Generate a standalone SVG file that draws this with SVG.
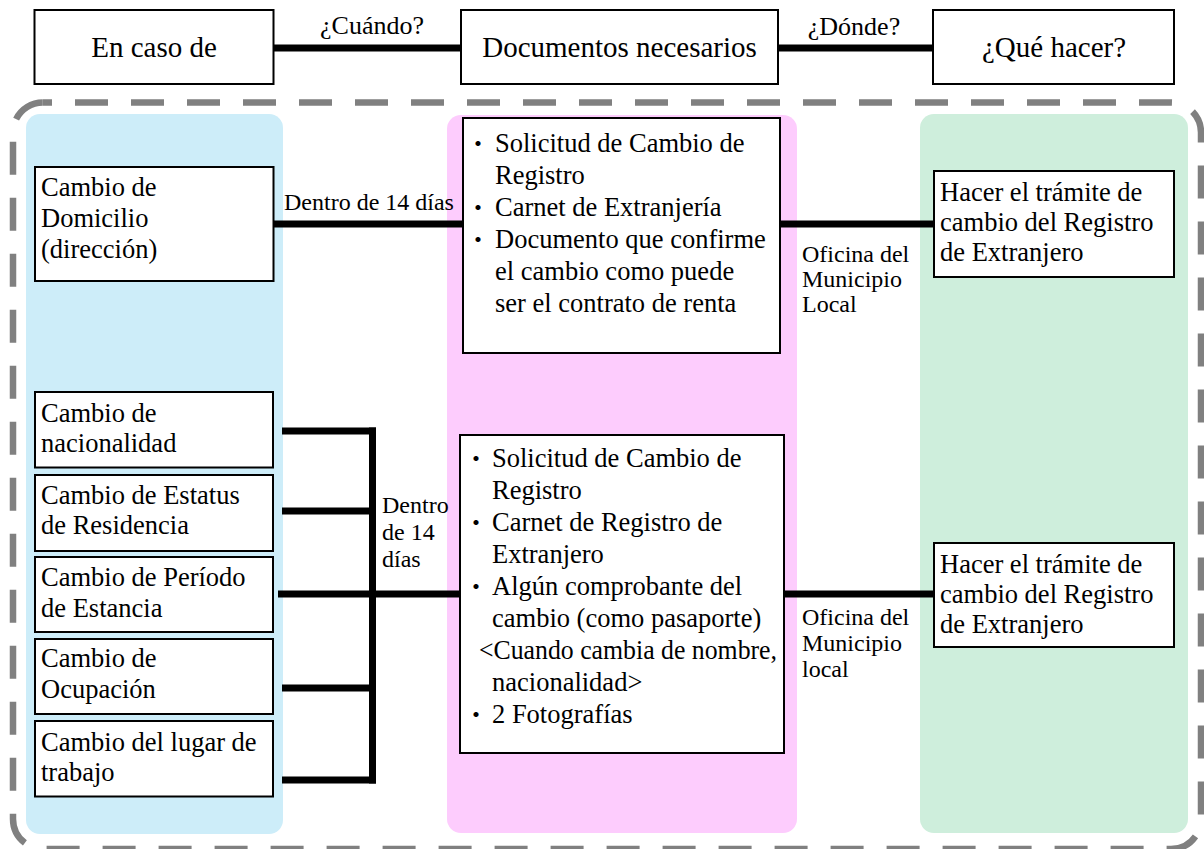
<svg xmlns="http://www.w3.org/2000/svg" width="1204" height="849" viewBox="0 0 1204 849">
<style>
text{font-family:"Liberation Serif","Times New Roman",serif;fill:#000}
.hd{font-size:29px;text-anchor:middle}
.lb{font-size:26px;text-anchor:middle}
.t{font-size:26.5px}
.s{font-size:24px}
.b{font-family:"Noto Sans CJK JP","Liberation Serif",sans-serif;font-size:24px;text-anchor:middle}
.box{fill:#fff;stroke:#000;stroke-width:2}
.ln{stroke:#000;stroke-width:7;fill:none}
</style>
<rect x="13" y="102.5" width="1188" height="746.5" rx="30" fill="none" stroke="#808080" stroke-width="6.5" stroke-dasharray="33 23" stroke-dashoffset="24"/>
<rect x="26" y="114" width="257" height="720" rx="14" fill="#cdedf9"/>
<rect x="447" y="115" width="350" height="718" rx="14" fill="#fdccfd"/>
<rect x="920" y="114" width="268" height="719" rx="14" fill="#ceeedc"/>
<g id="connectors">
<line class="ln" x1="273" y1="48" x2="461" y2="48"/>
<line class="ln" x1="778" y1="48" x2="933" y2="48"/>
<line class="ln" x1="273" y1="224" x2="463" y2="224"/>
<line class="ln" x1="780" y1="224" x2="934" y2="224"/>
<line class="ln" x1="282" y1="431" x2="376" y2="431"/>
<line class="ln" x1="282" y1="511" x2="376" y2="511"/>
<line class="ln" x1="278" y1="594" x2="460" y2="594"/>
<line class="ln" x1="282" y1="688" x2="376" y2="688"/>
<line class="ln" x1="282" y1="780" x2="376" y2="780"/>
<line class="ln" x1="372.5" y1="427.5" x2="372.5" y2="783.5"/>
<line class="ln" x1="784" y1="594" x2="934" y2="594"/>
<text class="lb" x="372" y="34">¿Cuándo?</text>
<text class="lb" x="854" y="35">¿Dónde?</text>
<text class="s" x="284" y="210">Dentro de 14 días</text>
<text class="s" x="382" y="513">Dentro</text>
<text class="s" x="382" y="540">de 14</text>
<text class="s" x="382" y="567">días</text>
<text class="s" x="802" y="262">Oficina del</text>
<text class="s" x="802" y="287">Municipio</text>
<text class="s" x="802" y="312">Local</text>
<text class="s" x="802" y="625">Oficina del</text>
<text class="s" x="802" y="651">Municipio</text>
<text class="s" x="802" y="677">local</text>
</g>
<g id="h1"><rect class="box" x="34.5" y="10" width="239" height="74"/><text class="hd" x="154" y="57">En caso de</text></g>
<g id="h2"><rect class="box" x="461" y="10" width="317" height="74"/><text class="hd" x="619.5" y="57">Documentos necesarios</text></g>
<g id="h3"><rect class="box" x="933" y="10" width="241" height="74"/><text class="hd" x="1054" y="57">¿Qué hacer?</text></g>
<g id="c1"><rect class="box" x="35" y="167" width="238.5" height="114"/>
<text class="t" x="41" y="196">Cambio de</text><text class="t" x="41" y="227">Domicilio</text><text class="t" x="41" y="258">(dirección)</text></g>
<g id="c2"><rect class="box" x="35" y="392" width="238" height="75.5"/>
<text class="t" x="41" y="422">Cambio de</text><text class="t" x="41" y="452">nacionalidad</text></g>
<g id="c3"><rect class="box" x="35" y="475" width="238" height="76"/>
<text class="t" x="41" y="504">Cambio de Estatus</text><text class="t" x="41" y="534">de Residencia</text></g>
<g id="c4"><rect class="box" x="35" y="557" width="238" height="75"/>
<text class="t" x="41" y="586">Cambio de Período</text><text class="t" x="41" y="617">de Estancia</text></g>
<g id="c5"><rect class="box" x="35" y="639" width="238" height="75"/>
<text class="t" x="41" y="667">Cambio de</text><text class="t" x="41" y="698">Ocupación</text></g>
<g id="c6"><rect class="box" x="35" y="721" width="238" height="75.5"/>
<text class="t" x="41" y="751">Cambio del lugar de</text><text class="t" x="41" y="781">trabajo</text></g>
<g id="d1"><rect class="box" x="463" y="118" width="317" height="235"/>
<text class="b" x="478" y="152">・</text><text class="t" x="495" y="152">Solicitud de Cambio de</text>
<text class="t" x="495" y="184">Registro</text>
<text class="b" x="478" y="216">・</text><text class="t" x="495" y="216">Carnet de Extranjería</text>
<text class="b" x="478" y="248">・</text><text class="t" x="495" y="248">Documento que confirme</text>
<text class="t" x="495" y="280">el cambio como puede</text>
<text class="t" x="495" y="312">ser el contrato de renta</text></g>
<g id="d2"><rect class="box" x="460" y="435" width="324" height="318"/>
<text class="b" x="476" y="467">・</text><text class="t" x="492" y="467">Solicitud de Cambio de</text>
<text class="t" x="492" y="499">Registro</text>
<text class="b" x="476" y="531">・</text><text class="t" x="492" y="531">Carnet de Registro de</text>
<text class="t" x="492" y="563">Extranjero</text>
<text class="b" x="476" y="595">・</text><text class="t" x="492" y="595">Algún comprobante del</text>
<text class="t" x="492" y="627">cambio (como pasaporte)</text>
<text class="t" x="479" y="659" textLength="298" lengthAdjust="spacingAndGlyphs">&lt;Cuando cambia de nombre,</text>
<text class="t" x="492" y="691">nacionalidad&gt;</text>
<text class="b" x="476" y="723">・</text><text class="t" x="492" y="723">2 Fotografías</text></g>
<g id="r1"><rect class="box" x="934" y="171" width="240" height="106"/>
<text class="t" x="940" y="201">Hacer el trámite de</text><text class="t" x="940" y="231">cambio del Registro</text><text class="t" x="940" y="261">de Extranjero</text></g>
<g id="r2"><rect class="box" x="934" y="543" width="240" height="104"/>
<text class="t" x="940" y="573">Hacer el trámite de</text><text class="t" x="940" y="603">cambio del Registro</text><text class="t" x="940" y="633">de Extranjero</text></g>
</svg>
